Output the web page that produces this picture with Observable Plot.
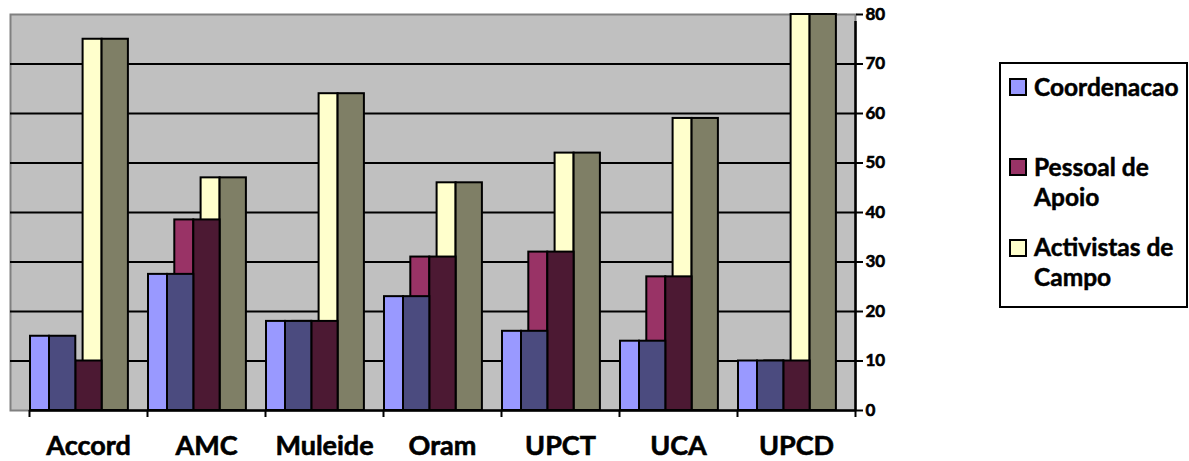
<!DOCTYPE html>
<html>
<head>
<meta charset="utf-8">
<script src="https://cdn.jsdelivr.net/npm/d3@7"></script>
<script src="https://cdn.jsdelivr.net/npm/@observablehq/plot@0.6"></script>
<style>
  html, body { margin: 0; padding: 0; background: #fff; }
  #wrap { position: relative; width: 1189px; height: 461px; font-family: Lato, "Open Sans", sans-serif; }
  #chart svg { display: block; }
  /* heavier lettering for axis labels */
  #chart svg text { stroke: #000; stroke-width: 0.6px; }
  .legend-box { position: absolute; left: 999px; top: 62px; width: 189px; height: 246px;
                border: 2px solid #000; box-sizing: border-box; background: #fff; }
  .legend-swatch { position: absolute; width: 18px; height: 18px; border: 2px solid #000; box-sizing: border-box; }
  .legend-text { position: absolute; left: 1034px; width: 152px; font-size: 24.5px; font-weight: bold;
                 line-height: 30px; color: #000; -webkit-text-stroke: 0.5px #000; }
</style>
</head>
<body>
<div id="wrap">
  <div id="chart"></div>
</div>
<script>
// Organisations (x categories)
const categories = ["Accord", "AMC", "Muleide", "Oram", "UPCT", "UCA", "UPCD"];

// Staff counts per organisation, one list per staff group
const coordenacao     = [15, 27.5, 18, 23, 16, 14, 10];
const pessoalApoio    = [10, 38.5, 18, 31, 32, 27, 10];
const activistasCampo = [75, 47, 64, 46, 52, 59, 80];

// Series names shown in the legend
const seriesNames = ["Coordenacao", "Pessoal de Apoio", "Activistas de Campo"];

// Value axis ticks (right-hand side)
const yTicks = [0, 10, 20, 30, 40, 50, 60, 70, 80];

// Face colours: front face and shaded side face of each column
const frontColors = ["#9999ff", "#993366", "#ffffcc"];
const sideColors  = ["#4b4b7f", "#4c1933", "#7f7f66"];

const seriesValues = [coordenacao, pessoalApoio, activistasCampo];

// Column geometry in category-band units (one band = 1)
const bandPx = 118;
const offset = 1 / bandPx;       // gap between band start and first column
const step = 26.3 / bandPx;      // shift from one series to the next
const frontW = 19 / bandPx;      // width of the lit front face
const sideW = 26.3 / bandPx;     // width of the shaded side face
const wallDepth = 19 / bandPx;   // back wall reaches left of the first band

// Later series sit behind earlier ones, so they are drawn first
const faces = [];
for (let s = seriesValues.length - 1; s >= 0; s--) {
  seriesValues[s].forEach((v, i) => {
    const x0 = i + offset + s * step;
    faces.push({series: seriesNames[s], value: v, x1: x0, x2: x0 + frontW, fill: frontColors[s]});
    faces.push({series: seriesNames[s], value: v, x1: x0 + frontW, x2: x0 + frontW + sideW, fill: sideColors[s]});
  });
}

const n = categories.length;
const yMax = yTicks[yTicks.length - 1];

const chart = Plot.plot({
  width: 1189,
  height: 461,
  marginLeft: 10,
  marginRight: 334,
  marginTop: 14,
  marginBottom: 51,
  style: {fontFamily: 'Lato, "Open Sans", sans-serif', color: "#000", background: "transparent"},
  x: {type: "linear", domain: [-wallDepth, n]},
  y: {domain: [0, yMax]},
  marks: [
    Plot.frame({fill: "#c0c0c0", stroke: "#808080", strokeWidth: 2}),
    Plot.ruleY(yTicks.filter(t => t > 0 && t < yMax), {stroke: "#000", strokeWidth: 2}),
    Plot.rect(faces, {x1: "x1", x2: "x2", y1: 0, y2: "value", fill: "fill", stroke: "#000", strokeWidth: 2}),
    Plot.ruleY([0], {x1: 0, x2: n, stroke: "#000", strokeWidth: 2.5}),
    Plot.ruleX([n], {y1: 0, y2: yMax, insetBottom: -7, stroke: "#000", strokeWidth: 2.5}),
    Plot.axisY({anchor: "right", ticks: yTicks, tickSize: 7, tickPadding: 3, textAnchor: "start",
                fontSize: 17, fontWeight: "bold", strokeWidth: 2, stroke: "#000", fill: "#000", label: null}),
    Plot.axisX({ticks: d3.range(n + 1), tickSize: 7, tickFormat: () => "", strokeWidth: 2, stroke: "#000", label: null}),
    Plot.axisX({ticks: d3.range(n).map(i => i + 0.5), tickSize: 0, tickPadding: 25,
                tickFormat: d => categories[Math.floor(d)], fontSize: 27, fontWeight: "bold", fill: "#000", label: null})
  ]
});
document.getElementById("chart").appendChild(chart);

// Legend to the right of the plot
const wrap = document.getElementById("wrap");
const box = document.createElement("div");
box.className = "legend-box";
wrap.appendChild(box);
const itemTops = [71.5, 151.5, 232];
seriesNames.forEach((name, s) => {
  const sw = document.createElement("div");
  sw.className = "legend-swatch";
  sw.style.left = "1009px";
  sw.style.top = (itemTops[s] + 6.5) + "px";
  sw.style.background = frontColors[s];
  wrap.appendChild(sw);
  const tx = document.createElement("div");
  tx.className = "legend-text";
  tx.style.top = itemTops[s] + "px";
  tx.textContent = name;
  wrap.appendChild(tx);
});
</script>
</body>
</html>
